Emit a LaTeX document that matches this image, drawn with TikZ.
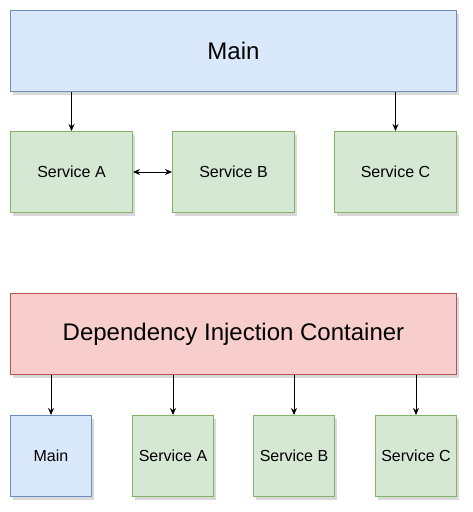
\documentclass[tikz,border=0pt]{standalone}
\usepackage{fontspec}
\setmainfont{Liberation Sans}
\usetikzlibrary{arrows.meta,shadows}
\definecolor{bluef}{HTML}{DAE8FC}
\definecolor{blued}{HTML}{6C8EBF}
\definecolor{greenf}{HTML}{D5E8D4}
\definecolor{greend}{HTML}{82B366}
\definecolor{redf}{HTML}{F8CECC}
\definecolor{redd}{HTML}{B85450}
\tikzset{
  boxbase/.style={rectangle, inner sep=0pt, line width=1pt, anchor=north west,
    drop shadow={shadow xshift=2pt, shadow yshift=-3pt, opacity=0.25, fill=black!60}},
  bluebox/.style={boxbase, fill=bluef, draw=blued},
  greenbox/.style={boxbase, fill=greenf, draw=greend},
  redbox/.style={boxbase, fill=redf, draw=redd},
  arr/.style={line width=0.8pt, -{Stealth[length=7pt,width=6pt]}},
  darr/.style={line width=0.8pt, {Stealth[length=7pt,width=6pt]}-{Stealth[length=7pt,width=6pt]}}
}
\begin{document}
\begin{tikzpicture}[x=1pt,y=-1pt]
\useasboundingbox (0,0) rectangle (472,512);
\node[bluebox, minimum width=446pt, minimum height=81pt, font=\fontsize{24}{28}\selectfont] (main) at (10,10) {Main};
\node[greenbox, minimum width=122pt, minimum height=81pt, font=\fontsize{16}{19}\selectfont] (sa) at (10,131) {Service A};
\node[greenbox, minimum width=122pt, minimum height=81pt, font=\fontsize{16}{19}\selectfont] (sb) at (172,131) {Service B};
\node[greenbox, minimum width=122pt, minimum height=81pt, font=\fontsize{16}{19}\selectfont] (sc) at (334,131) {Service C};
\draw[arr] (sa.north |- main.south) -- (sa.north);
\draw[arr] (sc.north |- main.south) -- (sc.north);
\draw[darr] (sa.east) -- (sb.west);

\node[redbox, minimum width=446pt, minimum height=81pt, font=\fontsize{24}{28}\selectfont] (di) at (10,293) {Dependency Injection Container};
\node[bluebox, minimum width=81pt, minimum height=81pt, font=\fontsize{16}{19}\selectfont] (m2) at (10,415) {Main};
\node[greenbox, minimum width=81pt, minimum height=81pt, font=\fontsize{16}{19}\selectfont] (a2) at (132,415) {Service A};
\node[greenbox, minimum width=81pt, minimum height=81pt, font=\fontsize{16}{19}\selectfont] (b2) at (253,415) {Service B};
\node[greenbox, minimum width=81pt, minimum height=81pt, font=\fontsize{16}{19}\selectfont] (c2) at (375,415) {Service C};
\draw[arr] (m2.north |- di.south) -- (m2.north);
\draw[arr] (a2.north |- di.south) -- (a2.north);
\draw[arr] (b2.north |- di.south) -- (b2.north);
\draw[arr] (c2.north |- di.south) -- (c2.north);
\end{tikzpicture}
\end{document}
